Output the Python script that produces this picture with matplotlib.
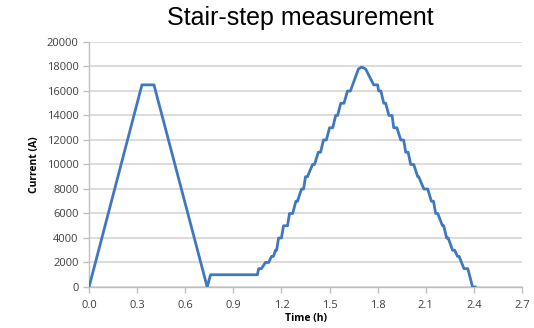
import matplotlib.pyplot as plt

time_h = [0.0, 0.33, 0.405, 0.737, 0.758, 1.050,
          1.058, 1.075, 1.100, 1.120, 1.138, 1.150, 1.163, 1.170,
          1.182, 1.200, 1.213, 1.238, 1.250, 1.270, 1.290, 1.300,
          1.325, 1.338, 1.350, 1.362, 1.394, 1.406, 1.430, 1.444,
          1.462, 1.480, 1.500, 1.520, 1.538, 1.550, 1.570, 1.590,
          1.612, 1.630, 1.680, 1.700, 1.725,
          1.775, 1.800, 1.806, 1.820, 1.838, 1.850, 1.870, 1.890,
          1.900, 1.920, 1.944, 1.962, 1.975, 1.990, 2.006, 2.025,
          2.050, 2.056, 2.088, 2.112, 2.135, 2.148, 2.162, 2.175,
          2.204, 2.212, 2.230, 2.240, 2.267, 2.280, 2.298, 2.308,
          2.338, 2.362, 2.392, 2.408]
current_a = [0, 16500, 16500, 0, 1000, 1000,
             1500, 1500, 2000, 2000, 2500, 2500, 3000, 3000,
             4000, 4000, 5000, 5000, 6000, 6000, 7000, 7000,
             8000, 8000, 9000, 9000, 10000, 10000, 11000, 11000,
             12000, 12000, 13000, 13000, 14000, 14000, 15000, 15000,
             16000, 16000, 17800, 17950, 17800,
             16500, 16500, 16000, 16000, 15000, 15000, 14000, 14000,
             13000, 13000, 12000, 12000, 11000, 11000, 10000, 10000,
             9000, 9000, 8000, 8000, 7000, 7000, 6000, 6000,
             5000, 5000, 4000, 4000, 3000, 3000, 2500, 2500,
             1500, 1500, 0, 0]

x_ticks = [0.0, 0.3, 0.6, 0.9, 1.2, 1.5, 1.8, 2.1, 2.4, 2.7]
y_ticks = list(range(0, 20001, 2000))

plt.rcParams['font.family'] = ['Open Sans', 'DejaVu Sans']

fig = plt.figure(figsize=(5.34, 3.28), dpi=100)
ax = fig.add_axes([0.1667, 0.125, 0.8108, 0.747])

ax.plot(time_h, current_a, color='#3f78c0', linewidth=2.0, zorder=3)

ax.set_xlim(0, 2.7)
ax.set_ylim(0, 20000)
ax.set_xticks(x_ticks)
ax.set_xticklabels(['%.1f' % t for t in x_ticks])
ax.set_yticks(y_ticks)
ax.yaxis.grid(True, color='#d9d9d9', linewidth=1.3)
ax.set_axisbelow(True)

for side in ['top', 'right']:
    ax.spines[side].set_visible(False)
for side in ['left', 'bottom']:
    ax.spines[side].set_color('#bfbfbf')
    ax.spines[side].set_linewidth(1.0)
ax.tick_params(axis='both', colors='#bfbfbf', labelcolor='#404040',
               labelsize=8, length=4, width=1.0, direction='out')
ax.tick_params(axis='x', pad=5)

ax.set_xlabel('Time (h)', fontsize=7.5, fontweight='bold', labelpad=2)
ax.set_ylabel('Current (A)', fontsize=7.5, fontweight='bold', labelpad=5)

fig.text(0.562, 0.945, 'Stair-step measurement', ha='center', va='center',
         fontsize=18, family='Liberation Sans')

fig.savefig('out.png', dpi=100)
